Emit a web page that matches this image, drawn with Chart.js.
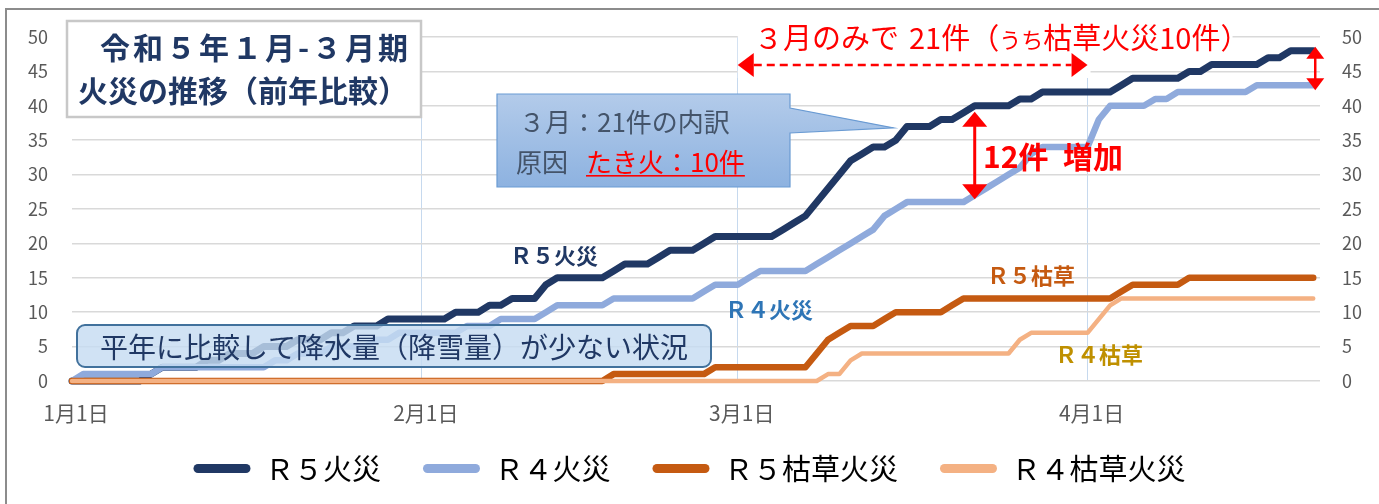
<!DOCTYPE html>
<html lang="ja">
<head>
<meta charset="utf-8">
<title>令和５年１月-３月期 火災の推移（前年比較）</title>
<script src="https://cdn.jsdelivr.net/npm/chart.js@4.4.1/dist/chart.umd.min.js"></script>
<style>
  html, body { margin: 0; padding: 0; background: #fff; }
  #wrap { position: relative; width: 1379px; height: 504px; overflow: hidden; }
  #chart { position: absolute; left: 0; top: 0; }
  #frame {
    position: absolute; left: 5px; top: 8px; width: 1400px; height: 520px;
    border-left: 2px solid #8c8c8c; border-top: 2px solid #8c8c8c; pointer-events: none;
  }
</style>
</head>
<body>
<div id="wrap">
  <canvas id="chart" width="1379" height="504"></canvas>
  <div id="frame"></div>
</div>
<script>
// 火災の累計件数（1月1日 = 0 日目 ... 4月20日 = 110 日目）

const JP = '"Noto Sans CJK JP", "Noto Sans", sans-serif';

/* ----------------------------- Data ----------------------------------- */

// day index since 1月1日, one entry per day
const days = Array.from({ length: 111 }, (_, i) => i);

// x-axis tick labels and where they sit (day index)
const monthStarts = [0, 31, 59, 90];
const monthLabels = ["1月1日", "2月1日", "3月1日", "4月1日"];

const yTicks = [0, 5, 10, 15, 20, 25, 30, 35, 40, 45, 50];

const seriesNames = ["Ｒ５火災", "Ｒ４火災", "Ｒ５枯草火災", "Ｒ４枯草火災"];

const r5Fires = [
  0, 0, 0, 0, 0, 0, 0, 1, 2, 2,
  2, 2, 3, 3, 4, 4, 4, 5, 5, 5,
  6, 6, 6, 7, 7, 8, 8, 8, 9, 9,
  9, 9, 9, 9, 10, 10, 10, 11, 11, 12,
  12, 12, 14, 15, 15, 15, 15, 15, 16, 17,
  17, 17, 18, 19, 19, 19, 20, 21, 21, 21,
  21, 21, 21, 22, 23, 24, 26, 28, 30, 32,
  33, 34, 34, 35, 37, 37, 37, 38, 38, 39,
  40, 40, 40, 40, 41, 41, 42, 42, 42, 42,
  42, 42, 42, 43, 44, 44, 44, 44, 44, 45,
  45, 46, 46, 46, 46, 46, 47, 47, 48, 48,
  48
];

const r4Fires = [
  0, 1, 1, 1, 1, 1, 1, 1, 2, 2,
  2, 2, 2, 2, 2, 2, 2, 2, 3, 3,
  4, 4, 4, 5, 5, 5, 5, 6, 6, 7,
  7, 7, 7, 7, 7, 8, 8, 8, 9, 9,
  9, 9, 10, 11, 11, 11, 11, 11, 12, 12,
  12, 12, 12, 12, 12, 12, 13, 14, 14, 14,
  15, 16, 16, 16, 16, 16, 17, 18, 19, 20,
  21, 22, 24, 25, 26, 26, 26, 26, 26, 26,
  27, 28, 29, 30, 31, 33, 34, 34, 34, 34,
  34, 38, 40, 40, 40, 40, 41, 41, 42, 42,
  42, 42, 42, 42, 42, 43, 43, 43, 43, 43,
  43
];

const r5Grass = [
  0, 0, 0, 0, 0, 0, 0, 0, 0, 0,
  0, 0, 0, 0, 0, 0, 0, 0, 0, 0,
  0, 0, 0, 0, 0, 0, 0, 0, 0, 0,
  0, 0, 0, 0, 0, 0, 0, 0, 0, 0,
  0, 0, 0, 0, 0, 0, 0, 0, 1, 1,
  1, 1, 1, 1, 1, 1, 1, 2, 2, 2,
  2, 2, 2, 2, 2, 2, 4, 6, 7, 8,
  8, 8, 9, 10, 10, 10, 10, 10, 11, 12,
  12, 12, 12, 12, 12, 12, 12, 12, 12, 12,
  12, 12, 12, 13, 14, 14, 14, 14, 14, 15,
  15, 15, 15, 15, 15, 15, 15, 15, 15, 15,
  15
];

const r4Grass = [
  0, 0, 0, 0, 0, 0, 0, 0, 0, 0,
  0, 0, 0, 0, 0, 0, 0, 0, 0, 0,
  0, 0, 0, 0, 0, 0, 0, 0, 0, 0,
  0, 0, 0, 0, 0, 0, 0, 0, 0, 0,
  0, 0, 0, 0, 0, 0, 0, 0, 0, 0,
  0, 0, 0, 0, 0, 0, 0, 0, 0, 0,
  0, 0, 0, 0, 0, 0, 0, 1, 1, 3,
  4, 4, 4, 4, 4, 4, 4, 4, 4, 4,
  4, 4, 4, 4, 6, 7, 7, 7, 7, 7,
  7, 9, 11, 12, 12, 12, 12, 12, 12, 12,
  12, 12, 12, 12, 12, 12, 12, 12, 12, 12,
  12
];

/* -------------------------- Annotations -------------------------------- */

function arrowHead(ctx, tipX, tipY, dir, len, half) {
  // dir: 'left' | 'right' | 'up' | 'down'
  ctx.beginPath();
  ctx.moveTo(tipX, tipY);
  if (dir === "left") { ctx.lineTo(tipX + len, tipY - half); ctx.lineTo(tipX + len, tipY + half); }
  if (dir === "right") { ctx.lineTo(tipX - len, tipY - half); ctx.lineTo(tipX - len, tipY + half); }
  if (dir === "up") { ctx.lineTo(tipX - half, tipY + len); ctx.lineTo(tipX + half, tipY + len); }
  if (dir === "down") { ctx.lineTo(tipX - half, tipY - len); ctx.lineTo(tipX + half, tipY - len); }
  ctx.closePath();
  ctx.fill();
}

function verticalArrow(ctx, x, top, bottom, len, half, width) {
  ctx.fillStyle = "#FF0000";
  ctx.strokeStyle = "#FF0000";
  ctx.lineWidth = width;
  ctx.beginPath();
  ctx.moveTo(x, top + len - 1);
  ctx.lineTo(x, bottom - len + 1);
  ctx.stroke();
  arrowHead(ctx, x, top, "up", len, half);
  arrowHead(ctx, x, bottom, "down", len, half);
}

const annotations = {
  id: "annotations",
  afterDatasetsDraw(chart) {
    const { ctx } = chart;
    const xs = chart.scales.x;
    const ys = chart.scales.y;
    ctx.save();
    ctx.textBaseline = "middle";
    ctx.textAlign = "left";

    // title box
    ctx.fillStyle = "#ffffff";
    ctx.fillRect(67, 21, 354, 96);
    ctx.lineWidth = 2.5;
    ctx.strokeStyle = "#c8c8c8";
    ctx.strokeRect(67, 21, 354, 96);
    ctx.fillStyle = "#203864";
    ctx.font = `bold 30px ${JP}`;
    ctx.letterSpacing = "3px";
    ctx.fillText("令和５年１月-３月期", 100, 48);
    ctx.letterSpacing = "0px";
    ctx.fillText("火災の推移（前年比較）", 78, 91);

    // "3月のみで" block: white backing, red text, dashed double arrow
    const mar1 = xs.getPixelForValue(59);
    const apr1 = xs.getPixelForValue(90);
    ctx.fillStyle = "#ffffff";
    ctx.fillRect(mar1, 16, apr1 - mar1 + 3, 62);
    ctx.fillRect(apr1, 16, 145, 42);

    ctx.fillStyle = "#FF0000";
    let tx = 754;
    const parts = [
      ["３月のみで", 29, 10],
      ["21件（", 29, 0],
      ["うち", 22, 0],
      ["枯草火災10件）", 29, 0]
    ];
    parts.forEach(([s, size, gap]) => {
      ctx.font = `${size}px ${JP}`;
      ctx.fillText(s, tx, size === 29 ? 38 : 40);
      tx += ctx.measureText(s).width + gap;
    });

    const ay = 65;
    ctx.strokeStyle = "#FF0000";
    ctx.lineWidth = 2.5;
    ctx.setLineDash([8, 5]);
    ctx.beginPath();
    ctx.moveTo(mar1 + 16, ay);
    ctx.lineTo(apr1 - 16, ay);
    ctx.stroke();
    ctx.setLineDash([]);
    arrowHead(ctx, mar1, ay, "left", 16, 12);
    arrowHead(ctx, apr1, ay, "right", 16, 12);

    // callout: 3月の内訳
    const tipX = xs.getPixelForValue(72.8);
    const tipY = ys.getPixelForValue(36.8);
    const grad = ctx.createLinearGradient(0, 94, 0, 187);
    grad.addColorStop(0, "#b3cbea");
    grad.addColorStop(1, "#8db2e0");
    ctx.beginPath();
    ctx.moveTo(497, 94);
    ctx.lineTo(790, 94);
    ctx.lineTo(790, 108);
    ctx.lineTo(tipX, tipY);
    ctx.lineTo(790, 133);
    ctx.lineTo(790, 187);
    ctx.lineTo(497, 187);
    ctx.closePath();
    ctx.fillStyle = grad;
    ctx.fill();
    ctx.lineWidth = 1.2;
    ctx.strokeStyle = "#6a9bd3";
    ctx.stroke();

    ctx.fillStyle = "#44546A";
    ctx.font = `26px ${JP}`;
    ctx.fillText("３月：21件の内訳", 519, 122);
    ctx.fillText("原因", 516, 162);
    ctx.fillStyle = "#FF0000";
    const cause = "たき火：10件";
    ctx.fillText(cause, 586, 162);
    const cw = ctx.measureText(cause).width;
    ctx.fillRect(586, 175, cw, 1.6);

    // 12件 増加
    const d = 80;
    const topY = ys.getPixelForValue(r5Fires[d]) + 6;
    const botY = ys.getPixelForValue(r4Fires[d]) + 4;
    verticalArrow(ctx, xs.getPixelForValue(d), topY, botY, 15, 12.5, 3);
    ctx.fillStyle = "#FF0000";
    ctx.font = `bold 30px ${JP}`;
    ctx.fillText("12件", 983, 157);
    ctx.fillText("増加", 1063, 157);

    // end-of-period gap arrow
    const last = r5Fires.length - 1;
    verticalArrow(ctx, xs.getPixelForValue(last) + 2,
      ys.getPixelForValue(r5Fires[last]) - 4, ys.getPixelForValue(r4Fires[last]) + 5, 12, 9, 2.5);

    // series labels
    ctx.font = `bold 22px ${JP}`;
    [
      ["Ｒ５火災", "#203864", 510, 256],
      ["Ｒ４火災", "#2E75B6", 725, 310],
      ["Ｒ５枯草", "#C55A11", 987, 276],
      ["Ｒ４枯草", "#BF9000", 1055, 355]
    ].forEach(([s, c, lx, ly]) => {
      ctx.fillStyle = c;
      ctx.fillText(s, lx, ly);
    });

    // note box
    ctx.beginPath();
    ctx.roundRect(77, 325, 634, 42, 8);
    ctx.fillStyle = "rgba(198, 220, 241, 0.82)";
    ctx.fill();
    ctx.lineWidth = 2;
    ctx.strokeStyle = "#41719C";
    ctx.stroke();
    ctx.fillStyle = "#203864";
    ctx.font = `28px ${JP}`;
    ctx.fillText("平年に比較して降水量（降雪量）が少ない状況", 100, 347);

    ctx.restore();
  }
};

// the x axis is kept short so the legend sits high; let its labels spill
// below the axis box instead of being clipped to it
const unclipXTicks = {
  id: "unclipXTicks",
  beforeDraw(chart) {
    chart.scales.x._computeLabelArea = () => undefined;
  }
};

/* ----------------------------- Chart ----------------------------------- */

function lineSet(label, data, color, width, order) {
  return {
    label,
    data,
    borderColor: color,
    backgroundColor: color,
    borderWidth: width,
    pointRadius: 0,
    tension: 0,
    borderCapStyle: "round",
    borderJoinStyle: "round",
    clip: false,
    order
  };
}

new Chart(document.getElementById("chart"), {
  type: "line",
  data: {
    labels: days,
    datasets: [
      lineSet(seriesNames[0], r5Fires, "#203864", 7, 3),
      lineSet(seriesNames[1], r4Fires, "#8FAADC", 6.5, 2),
      lineSet(seriesNames[2], r5Grass, "#C55A11", 6.5, 1),
      lineSet(seriesNames[3], r4Grass, "#F4B183", 4.5, 0)
    ]
  },
  options: {
    responsive: false,
    animation: false,
    layout: { padding: { top: 37, bottom: 11, left: 0, right: 0 } },
    plugins: {
      tooltip: { enabled: false },
      legend: {
        position: "bottom",
        labels: {
          boxWidth: 57,
          boxHeight: 9,
          useBorderRadius: true,
          borderRadius: 4.5,
          padding: 42,
          color: "#595959",
          font: { family: JP, size: 29 },
          generateLabels: (chart) =>
            chart.data.datasets.map((ds, i) => ({
              text: ds.label,
              fillStyle: ds.borderColor,
              strokeStyle: ds.borderColor,
              lineWidth: 0,
              hidden: false,
              datasetIndex: i,
              borderRadius: 4.5
            }))
        }
      }
    },
    scales: {
      x: {
        type: "linear",
        min: 0,
        max: 110.6,
        afterBuildTicks: (s) => { s.ticks = monthStarts.map((v) => ({ value: v })); },
        afterFit: (s) => { s.height = 31; },
        ticks: {
          autoSkip: false,
          padding: 19,
          labelOffset: 4,
          maxRotation: 0,
          color: "#595959",
          font: { family: JP, size: 21 },
          callback: (v) => monthLabels[monthStarts.indexOf(v)]
        },
        grid: {
          drawTicks: false,
          lineWidth: 1,
          color: (c) => (c.tick && c.tick.value === 0 ? "rgba(0,0,0,0)" : "#c6d9ee")
        },
        border: { display: false }
      },
      y: {
        position: "left",
        min: 0,
        max: 50,
        afterBuildTicks: (s) => { s.ticks = yTicks.map((v) => ({ value: v })); },
        afterFit: (s) => { s.width = 72; },
        ticks: { padding: 24, color: "#595959", font: { family: JP, size: 18 } },
        grid: { drawTicks: false, color: "#d9d9d9", lineWidth: 1.5 },
        border: { display: false }
      },
      y2: {
        position: "right",
        min: 0,
        max: 50,
        afterBuildTicks: (s) => { s.ticks = yTicks.map((v) => ({ value: v })); },
        afterFit: (s) => { s.width = 59; },
        ticks: { padding: 22, color: "#595959", font: { family: JP, size: 18 } },
        grid: { display: false, drawTicks: false },
        border: { display: false }
      }
    }
  },
  plugins: [annotations, unclipXTicks]
});
</script>
</body>
</html>
